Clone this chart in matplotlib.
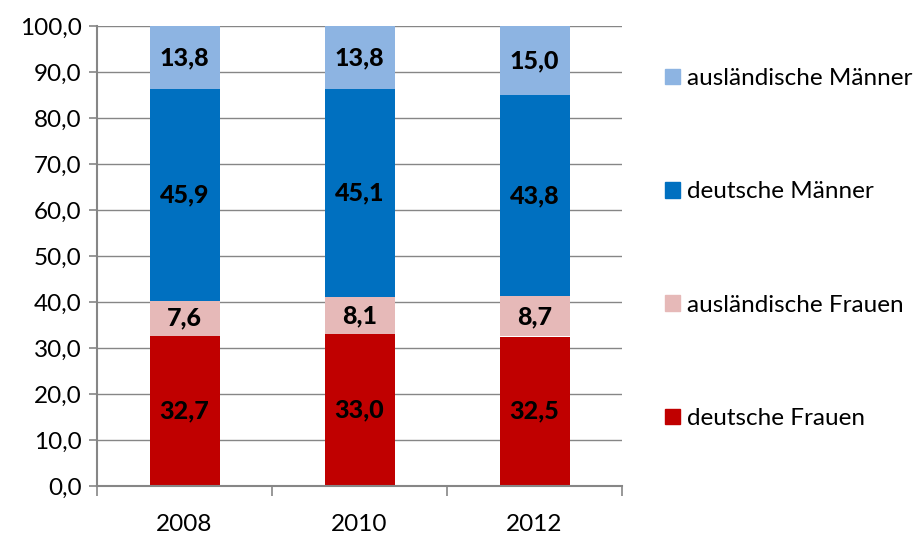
import numpy as np
import matplotlib.pyplot as plt
from matplotlib.patches import Patch

years = ['2008', '2010', '2012']
deutsche_frauen = [32.7, 33.0, 32.5]
auslaendische_frauen = [7.6, 8.1, 8.7]
deutsche_maenner = [45.9, 45.1, 43.8]
auslaendische_maenner = [13.8, 13.8, 15.0]

series = [
    ('deutsche Frauen', deutsche_frauen, '#C00000'),
    ('ausländische Frauen', auslaendische_frauen, '#E6B9B8'),
    ('deutsche Männer', deutsche_maenner, '#0070C0'),
    ('ausländische Männer', auslaendische_maenner, '#8DB4E2'),
]

plt.rcParams['font.family'] = ['Lato', 'DejaVu Sans']
GRAY = '#868686'
FS = 17.5

fig = plt.figure(figsize=(9.21, 5.39), dpi=100)
ax = fig.add_axes([97 / 921, 1 - 486 / 539, 525 / 921, 460 / 539])

x = np.arange(len(years))
bottom = np.zeros(len(years))
for name, vals, col in series:
    vals = np.array(vals)
    ax.bar(x, vals, 0.4, bottom=bottom, color=col, label=name, zorder=2)
    for xi, b, v in zip(x, bottom, vals):
        ax.text(xi, b + v / 2, f"{v:.1f}".replace('.', ','),
                ha='center', va='center', fontsize=18, fontweight='black',
                color='black', zorder=3)
    bottom += vals

ax.set_xlim(-0.5, 2.5)
ax.set_ylim(0, 100)
ax.set_yticks(np.arange(0, 101, 10))
ax.set_yticklabels([f"{v:.1f}".replace('.', ',') for v in np.arange(0, 101, 10)])
ax.grid(True, axis='y', color=GRAY, lw=1, zorder=0)

ax.set_xticks([-0.5, 0.5, 1.5, 2.5])
ax.set_xticklabels([])
ax.set_xticks(x, minor=True)
ax.set_xticklabels(years, minor=True)
ax.tick_params(axis='x', which='major', length=7, width=1.2, color=GRAY, direction='out')
ax.tick_params(axis='x', which='minor', length=0, pad=20, labelsize=FS)
ax.tick_params(axis='y', length=6, width=1.2, color=GRAY, labelsize=FS, pad=5)

for s in ['top', 'right']:
    ax.spines[s].set_visible(False)
for s in ['left', 'bottom']:
    ax.spines[s].set_color(GRAY)
    ax.spines[s].set_linewidth(1.5)

handles = [Patch(color=col, label=name) for name, _, col in series[::-1]]
fig.legend(handles=handles, loc='upper left', bbox_to_anchor=(665 / 921, 1 - 68 / 539),
           frameon=False, fontsize=FS, handlelength=0.6, handleheight=0.6,
           handletextpad=0.3, labelspacing=3.8, borderaxespad=0, borderpad=0)

fig.savefig('out.png', dpi=100)
